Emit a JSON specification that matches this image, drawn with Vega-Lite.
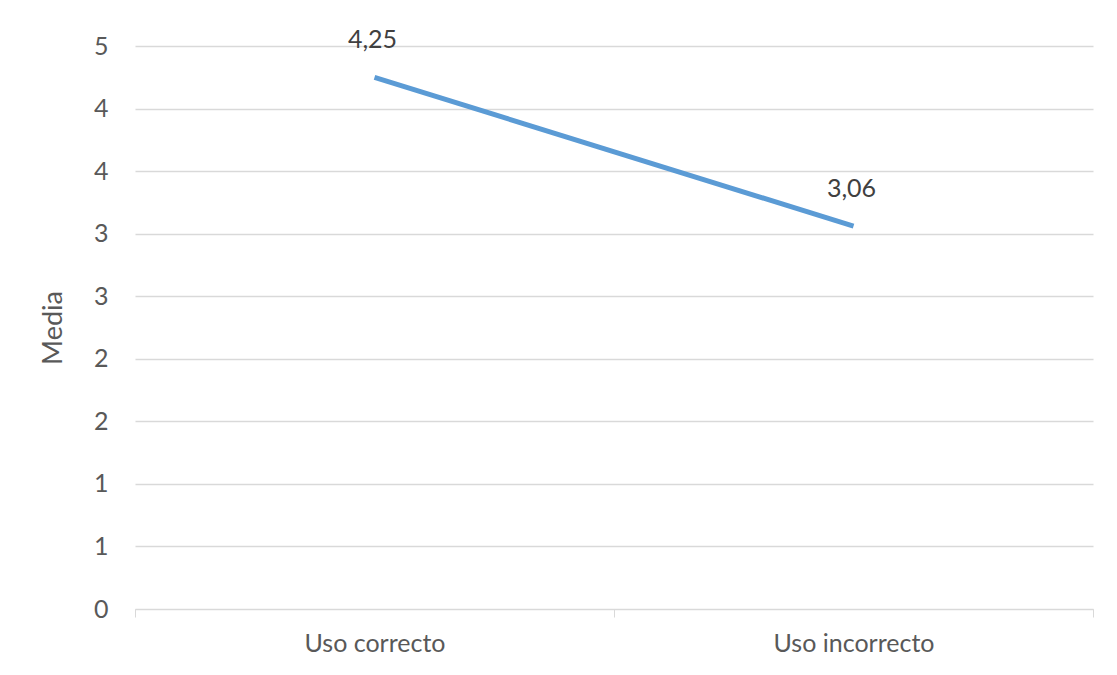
{
  "$schema": "https://vega.github.io/schema/vega-lite/v6.json",
  "width": 958,
  "height": 563,
  "autosize": {"type": "none"},
  "padding": {"left": 135, "top": 46, "right": 24, "bottom": 66},
  "background": "white",
  "config": {
    "view": {"stroke": null},
    "font": "Lato",
    "locale": {"number": {"decimal": ",", "thousands": ".", "grouping": [3], "currency": ["", " €"]}}
  },
  "data": {
    "values": [
      {"uso": "Uso correcto", "media": 4.25},
      {"uso": "Uso incorrecto", "media": 3.06}
    ]
  },
  "encoding": {
    "x": {
      "field": "uso", "type": "nominal", "sort": null, "title": null,
      "scale": {"paddingInner": 0, "paddingOuter": 0},
      "axis": {
        "labelAngle": 0, "labelFont": "Lato", "labelFontSize": 25, "labelColor": "#595959",
        "domainColor": "#d9d9d9", "tickColor": "#d9d9d9", "tickSize": 8, "tickBand": "extent",
        "labelPadding": 14, "grid": false
      }
    },
    "y": {
      "field": "media", "type": "quantitative", "title": "Media",
      "scale": {"domain": [0, 4.5], "nice": false, "zero": true},
      "axis": {
        "values": [0, 0.5, 1, 1.5, 2, 2.5, 3, 3.5, 4, 4.5],
        "labelExpr": "round(datum.value)",
        "labelFont": "Lato", "labelFontSize": 25, "labelColor": "#595959",
        "ticks": false, "domain": false, "labelPadding": 27,
        "gridColor": "#d9d9d9", "gridWidth": 1.3,
        "titleFont": "Lato", "titleFontSize": 27, "titleFontWeight": "normal", "titleColor": "#595959",
        "titlePadding": 26
      }
    }
  },
  "layer": [
    {"mark": {"type": "line", "color": "#5b9bd5", "strokeWidth": 5, "strokeCap": "butt"}},
    {
      "mark": {"type": "text", "fontSize": 25, "font": "Lato", "color": "#404040", "dy": -37, "dx": -2, "baseline": "middle"},
      "encoding": {"text": {"field": "media", "type": "quantitative", "format": ".2f"}}
    }
  ]
}
